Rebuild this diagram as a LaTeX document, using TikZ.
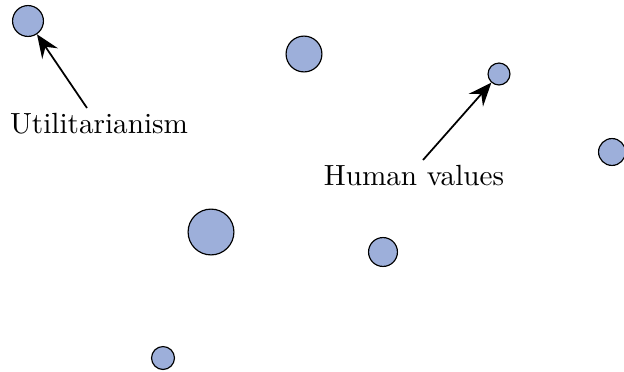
\documentclass[tikz,border=0pt]{standalone}
\usetikzlibrary{arrows.meta}
\definecolor{dot-blue}{HTML}{9DAFDA}

\begin{document}
\begin{tikzpicture}[x=0.01204cm, y=-0.01204cm,
      dot/.style={circle, draw=black, fill=dot-blue, inner sep=0pt},
      pointer/.style={-{Stealth[length=8pt, width=6.5pt, inset=2.8pt]}, semithick}]
    \useasboundingbox (0,0) rectangle (624,371);

    % value positions
    \node[dot, minimum size=31pt*0.3413] (util) at (28,21) {};
    \node[dot, minimum size=36pt*0.3413] (vA) at (304,54) {};
    \node[dot, minimum size=22pt*0.3413] (human) at (499,74) {};
    \node[dot, minimum size=27pt*0.3413] (vB) at (612,152) {};
    \node[dot, minimum size=46pt*0.3413] (vC) at (211,232) {};
    \node[dot, minimum size=29pt*0.3413] (vD) at (383,252) {};
    \node[dot, minimum size=23pt*0.3413] (vE) at (163,358) {};

    % labels
    \node[anchor=base] (utilLabel) at (99,133) {Utilitarianism};
    \node[anchor=base] (humanLabel) at (414,185) {Human values};

    % pointers
    \coordinate (utilTail) at (87,108);
    \coordinate (humanTail) at (423,160);
    \draw[pointer] (utilTail) -- (util);
    \draw[pointer] (humanTail) -- (human);
  \end{tikzpicture}
\end{document}
